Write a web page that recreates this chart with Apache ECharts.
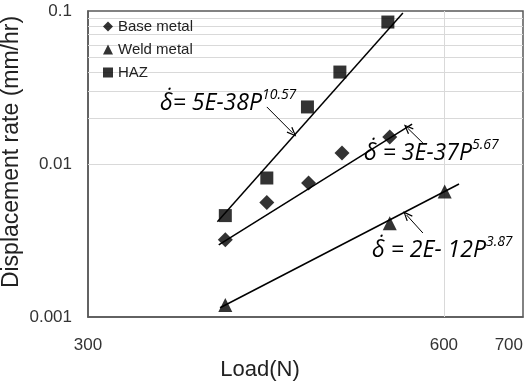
<!DOCTYPE html>
<html>
<head>
<meta charset="utf-8">
<script src="https://cdn.jsdelivr.net/npm/echarts@6/dist/echarts.min.js"></script>
<style>html,body{margin:0;padding:0;background:#fff}#c{width:529px;height:381px}</style>
</head>
<body>
<div id="c"></div>
<script>
// Measured points
const hazLoad = [392, 425, 460, 490, 538];
const hazRate = [0.0046, 0.0081, 0.0236, 0.0399, 0.0847];
const baseLoad = [392, 425, 461, 492, 540];
const baseRate = [0.0032, 0.0056, 0.0075, 0.0118, 0.0150];
const weldLoad = [392, 540, 601];
const weldRate = [0.0012, 0.0041, 0.0066];
// Power-law trend lines (end points)
const hazFitLoad = [386, 554];
const hazFitRate = [0.0042, 0.097];
const baseFitLoad = [387, 564];
const baseFitRate = [0.00296, 0.0182];
const weldFitLoad = [388, 618];
const weldFitRate = [0.00115, 0.0074];
// Axis ticks
const xTicks = [300, 600, 700];
const yTicks = [0.001, 0.01, 0.1];
const yGrid = [0.002,0.003,0.004,0.005,0.006,0.007,0.008,0.009,0.01,0.02,0.03,0.04,0.05,0.06,0.07,0.08,0.09];
const xGrid = [600];
// Leader arrows [fromLoad, fromRate, toLoad, toRate]
const hazArrow = [425, 0.0236, 447, 0.01595];
const baseArrow = [576, 0.01371, 559, 0.01718];
const weldArrow = [576, 0.00354, 558, 0.00464];
// Equation labels
const eqMain = ['δ̇= 5E-38P', 'δ̇ = 3E-37P', 'δ̇ = 2E- 12P'];
const eqExp = ['10.57', '5.67', '3.87'];
const yTitle = 'Displacement rate (mm/hr)';
const xTitle = 'Load(N)';

const zip = (a, b) => a.map((v, i) => [v, b[i]]);
const openArrow = 'path://M5,0 L10,10 L8.6,10.6 L5,3 L1.4,10.6 L0,10 Z';
const arrow = a => [{coord: [a[0], a[1]], symbol: 'none'}, {coord: [a[2], a[3]], symbol: openArrow}];

const chart = echarts.init(document.getElementById('c'));
const font = '"Liberation Sans", Arial, sans-serif';
const gridColor = '#d9d9d9';
const frameColor = '#595959';
const eqRich = {
  m: {font: 'italic 23px "Open Sans"', color: '#111', verticalAlign: 'bottom', lineHeight: 28},
  s: {font: 'italic 14px "Open Sans"', color: '#111', verticalAlign: 'bottom', lineHeight: 16, padding: [0, 0, 13, 0]}
};
const fitLine = {symbol: 'none', lineStyle: {color: '#000', width: 1.5}, z: 3};
const arrowStyle = {silent: true, symbolSize: [8, 10], label: {show: false}, lineStyle: {color: '#000', width: 1, type: 'solid'}};

chart.setOption({
  animation: false,
  grid: {left: 88, right: 6, top: 11, bottom: 64, show: true, borderColor: frameColor, borderWidth: 1.5, outerBoundsMode: 'none', containLabel: false},
  legend: {
    orient: 'vertical', left: 98, top: 14, itemGap: 8, itemWidth: 10, itemHeight: 10,
    textStyle: {fontFamily: font, fontSize: 15, color: '#222'},
    data: [{name: 'Base metal', icon: 'diamond'}, {name: 'Weld metal', icon: 'triangle'}, {name: 'HAZ', icon: 'rect'}]
  },
  xAxis: {
    type: 'log', min: 300, max: 700, logBase: 10,
    name: xTitle, nameLocation: 'middle', nameGap: 40,
    nameTextStyle: {fontFamily: font, fontSize: 22, color: '#222', padding: [0, 91, 0, 0]},
    axisLine: {show: true, lineStyle: {color: frameColor, width: 1.5}},
    axisTick: {show: false},
    splitLine: {show: false},
    axisLabel: {customValues: xTicks, fontFamily: font, fontSize: 17, color: '#333', margin: 20, alignMaxLabel: 'right'}
  },
  yAxis: {
    type: 'log', min: 0.001, max: 0.1, logBase: 10,
    axisLine: {show: true, lineStyle: {color: frameColor, width: 1.5}},
    axisTick: {show: false},
    splitLine: {show: false},
    axisLabel: {customValues: yTicks, fontFamily: font, fontSize: 17, color: '#333', margin: 16,
      formatter: v => String(v)}
  },
  series: [
    {
      type: 'line', name: 'grid', data: zip(weldFitLoad, weldFitRate), symbol: 'none', silent: true, z: 1,
      lineStyle: {opacity: 0},
      markLine: {
        silent: true, symbol: 'none', label: {show: false}, z: 1,
        lineStyle: {color: gridColor, width: 1, type: 'solid'},
        data: yGrid.map(v => ({yAxis: v})).concat(xGrid.map(v => ({xAxis: v})))
      }
    },
    Object.assign({type: 'line', name: 'hazFit', data: zip(hazFitLoad, hazFitRate), markLine: Object.assign({data: [arrow(hazArrow)]}, arrowStyle)}, fitLine),
    Object.assign({type: 'line', name: 'baseFit', data: zip(baseFitLoad, baseFitRate), markLine: Object.assign({data: [arrow(baseArrow)]}, arrowStyle)}, fitLine),
    Object.assign({type: 'line', name: 'weldFit', data: zip(weldFitLoad, weldFitRate), markLine: Object.assign({data: [arrow(weldArrow)]}, arrowStyle)}, fitLine),
    {type: 'scatter', name: 'Base metal', data: zip(baseLoad, baseRate), symbol: 'diamond', symbolSize: 15, itemStyle: {color: '#000'}, z: 5},
    {type: 'scatter', name: 'Weld metal', data: zip(weldLoad, weldRate), symbol: 'triangle', symbolSize: 14, itemStyle: {color: '#000'}, z: 5},
    {type: 'scatter', name: 'HAZ', data: zip(hazLoad, hazRate), symbol: 'rect', symbolSize: 13, itemStyle: {color: '#000'}, z: 5}
  ],
  graphic: [
    {type: 'text', x: 12, y: 152, rotation: Math.PI / 2, z: 10,
      style: {text: yTitle, font: '23px ' + font, fill: '#222', align: 'center', verticalAlign: 'middle'}},
    {type: 'text', left: 160, top: 88, z: 10, style: {text: '{m|' + eqMain[0] + '}{s|' + eqExp[0] + '}', rich: eqRich}},
    {type: 'text', left: 364, top: 138, z: 10, style: {text: '{m|' + eqMain[1] + '}{s|' + eqExp[1] + '}', rich: eqRich}},
    {type: 'text', left: 372, top: 235, z: 10, style: {text: '{m|' + eqMain[2] + '}{s|' + eqExp[2] + '}', rich: eqRich}}
  ]
});
</script>
</body>
</html>
